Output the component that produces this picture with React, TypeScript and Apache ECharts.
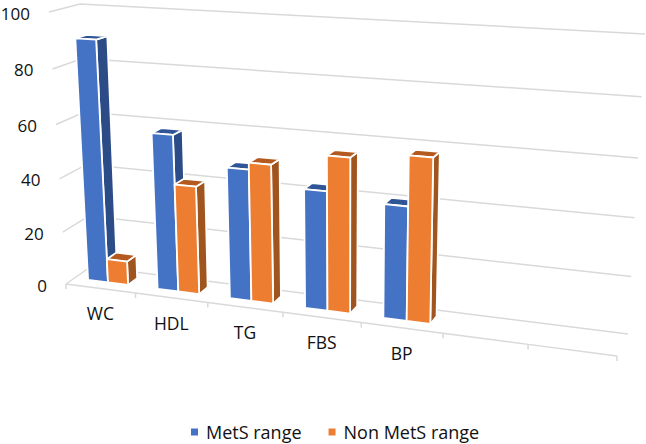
import React, { useEffect, useRef } from "react";
import * as echarts from "echarts";

const categories = ["WC", "HDL", "TG", "FBS", "BP", "", ""];
const metsValues = [90, 58, 48, 43, 40.5];
const nonMetsValues = [9, 40, 50.5, 55.5, 58];
const valueTicks = [0, 20, 40, 60, 80, 100];

const W = 646;
const H = 444;
const FONT = '"Open Sans", sans-serif';
const GRID_COLOR = "#d9d9d9";

type Pt = [number, number];

// corners: bottom-left, bottom-right, top-left, top-right of a plane of the 3D box
function homography(bl: Pt, br: Pt, tl: Pt, tr: Pt) {
  const [x0, y0] = bl, [x1, y1] = br, [x2, y2] = tr, [x3, y3] = tl;
  const dx1 = x1 - x2, dx2 = x3 - x2, sx = x0 - x1 + x2 - x3;
  const dy1 = y1 - y2, dy2 = y3 - y2, sy = y0 - y1 + y2 - y3;
  const den = dx1 * dy2 - dx2 * dy1;
  const g = (sx * dy2 - dx2 * sy) / den;
  const h = (dx1 * sy - sx * dy1) / den;
  const a = x1 - x0 + g * x1, b = x3 - x0 + h * x3, c = x0;
  const d = y1 - y0 + g * y1, e = y3 - y0 + h * y3, f = y0;
  return (s: number, t: number): Pt => {
    const q = g * s + h * t + 1;
    return [(a * s + b * t + c) / q, (d * s + e * t + f) / q];
  };
}

const frontPlane = homography([66, 284], [617, 356], [49, 12], [635, 44]);
const backPlane = homography([91, 266.5], [628, 334], [80, 4], [645, 34]);

// pixel in the flat hidden grid -> projected pixel at depth d (0 front, 1 back)
function project(p: number[], d: number): Pt {
  const s = p[0] / W;
  const t = 1 - p[1] / H;
  const a = frontPlane(s, t);
  const b = backPlane(s, t);
  return [a[0] + (b[0] - a[0]) * d, a[1] + (b[1] - a[1]) * d];
}

const DEPTH_FRONT = 0.34;
const DEPTH_BACK = 0.72;
const BAR_START = 0.2;
const BAR_WIDTH = 0.29;

function barSeries(name: string, values: number[], slot: number, front: string, side: string, top: string) {
  return {
    type: "custom",
    name,
    silent: true,
    z: 5,
    encode: { x: 0, y: 1 },
    itemStyle: { color: front },
    data: values.map((v, i) => [i, v]),
    renderItem: (_: any, api: any) => {
      const i = api.value(0);
      const v = api.value(1);
      const base = api.coord([i, 0]);
      const head = api.coord([i, v]);
      const band = api.size([1, 0])[0];
      const left = base[0] - band / 2 + band * (BAR_START + slot * BAR_WIDTH);
      const right = left + band * BAR_WIDTH;
      const P = (x: number, y: number, d: number) => project([x, y], d);
      const f0 = DEPTH_FRONT, f1 = DEPTH_BACK;
      const stroke = { stroke: "#ffffff", lineWidth: 1.8, lineJoin: "round" };
      const poly = (points: Pt[], fill: string) => ({
        type: "polygon",
        shape: { points },
        style: { fill, ...stroke },
      });
      return {
        type: "group",
        children: [
          poly([P(right, base[1], f0), P(right, base[1], f1), P(right, head[1], f1), P(right, head[1], f0)], side),
          poly([P(left, head[1], f0), P(right, head[1], f0), P(right, head[1], f1), P(left, head[1], f1)], top),
          poly([P(left, base[1], f0), P(right, base[1], f0), P(right, head[1], f0), P(left, head[1], f0)], front),
        ],
      };
    },
  };
}

const wallSeries = {
  type: "custom",
  name: "walls",
  silent: true,
  z: 1,
  encode: { x: 0, y: 1 },
  data: valueTicks.map((v) => [0, v]),
  renderItem: (_: any, api: any) => {
    const v = api.value(1);
    const band = api.size([1, 0])[0];
    const a = api.coord([0, v]);
    const b = api.coord([categories.length - 1, v]);
    const lx = a[0] - band / 2;
    const rx = b[0] + band / 2;
    const start = project([lx, a[1]], 0);
    return {
      type: "group",
      children: [
        {
          type: "polyline",
          shape: { points: [start, project([lx, a[1]], 1), project([rx, a[1]], 1)] },
          style: { stroke: GRID_COLOR, lineWidth: 1.5, fill: "none" },
        },
        {
          type: "text",
          style: {
            text: String(v),
            x: start[0] - 19,
            y: start[1] + 1,
            align: "right",
            verticalAlign: "middle",
            font: `17px ${FONT}`,
            fill: "#111111",
          },
        },
      ],
    };
  },
};

const floorSeries = {
  type: "custom",
  name: "floor",
  silent: true,
  z: 2,
  encode: { x: 0, y: 1 },
  data: categories.map((_, i) => [i, 0]),
  renderItem: (_: any, api: any) => {
    const i = api.value(0);
    const c = api.coord([i, 0]);
    const band = api.size([1, 0])[0];
    const l = project([c[0] - band / 2, c[1]], 0);
    const r = project([c[0] + band / 2, c[1]], 0);
    const m = project([c[0], c[1]], 0);
    const line = { stroke: GRID_COLOR, lineWidth: 1.5, fill: "none" };
    const children: any[] = [
      { type: "polyline", shape: { points: [l, r] }, style: line },
      { type: "polyline", shape: { points: [r, [r[0], r[1] + 5]] }, style: line },
    ];
    if (i === 0) {
      children.push({ type: "polyline", shape: { points: [l, [l[0], l[1] + 5]] }, style: line });
    }
    if (categories[i]) {
      children.push({
        type: "text",
        style: {
          text: categories[i],
          x: m[0],
          y: m[1] + 25,
          align: "center",
          verticalAlign: "middle",
          font: `17.5px ${FONT}`,
          fill: "#111111",
        },
      });
    }
    return { type: "group", children };
  },
};

export default function App() {
  const ref = useRef<HTMLDivElement>(null);
  useEffect(() => {
    const chart = echarts.init(ref.current!, undefined, { renderer: "svg" });
    chart.setOption({
      animation: false,
      backgroundColor: "#ffffff",
      grid: { left: 0, top: 0, width: W, height: H },
      xAxis: { type: "category", data: categories, show: false },
      yAxis: { type: "value", min: 0, max: 100, interval: 20, show: false },
      legend: {
        left: 191,
        top: 422,
        padding: 0,
        icon: "rect",
        itemWidth: 7,
        itemHeight: 7,
        itemGap: 27,
        textStyle: { fontFamily: FONT, fontSize: 18, lineHeight: 20, color: "#111111", padding: [0, 0, 0, 3] },
        data: [
          { name: "MetS range", itemStyle: { color: "#4472C4" } },
          { name: "Non MetS range", itemStyle: { color: "#ED7D31" } },
        ],
      },
      series: [
        wallSeries,
        floorSeries,
        barSeries("MetS range", metsValues, 0, "#4472C4", "#2B4C86", "#2F5597"),
        barSeries("Non MetS range", nonMetsValues, 1, "#ED7D31", "#A0551F", "#B4591F"),
      ],
    });
    return () => chart.dispose();
  }, []);
  return <div ref={ref} style={{ position: "fixed", left: 0, top: 0, width: W, height: H }} />;
}
